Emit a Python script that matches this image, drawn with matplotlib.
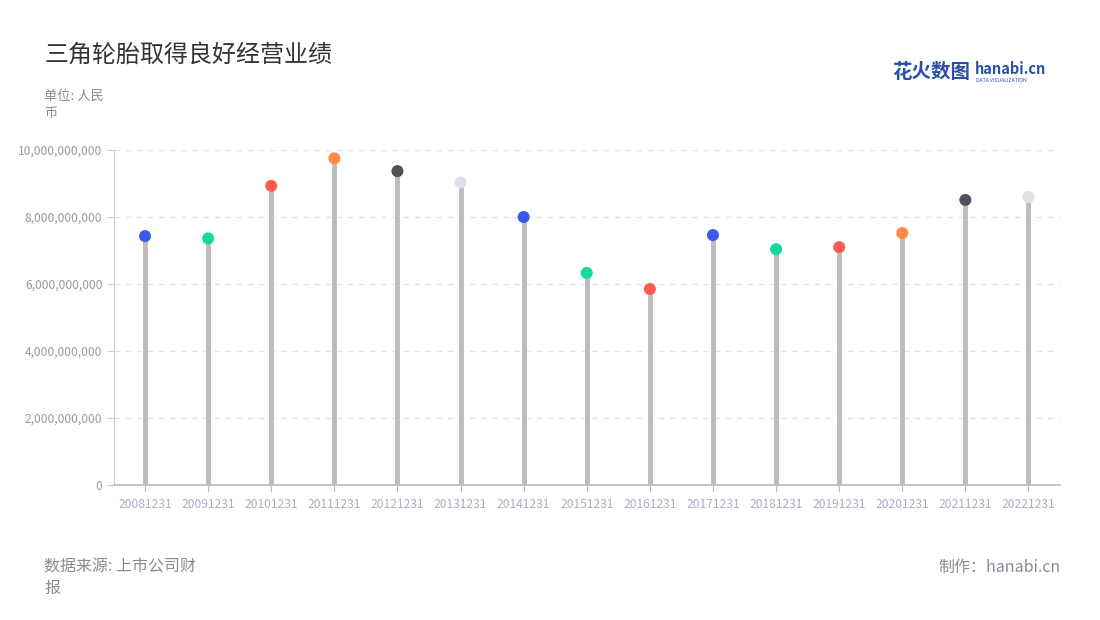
import matplotlib
matplotlib.use("Agg")
import matplotlib.pyplot as plt
from matplotlib.ticker import FuncFormatter, MultipleLocator

plt.rcParams['font.family'] = ['Noto Sans CJK SC', 'DejaVu Sans']

categories = ["20081231", "20091231", "20101231", "20111231", "20121231",
              "20131231", "20141231", "20151231", "20161231", "20171231",
              "20181231", "20191231", "20201231", "20211231", "20221231"]
revenue = [7.43e9, 7.36e9, 8.93e9, 9.75e9, 9.37e9,
           9.03e9, 8.00e9, 6.33e9, 5.85e9, 7.46e9,
           7.04e9, 7.10e9, 7.52e9, 8.51e9, 8.60e9]
dot_colors = ["#3a5be9", "#17d9a0", "#ff5a52", "#ff8b45", "#50505a",
              "#dde1ea", "#3a5be9", "#17d9a0", "#ff5a52", "#3a5be9",
              "#17d9a0", "#ff5a52", "#ff8b45", "#50505a", "#dde1ea"]

fig = plt.figure(figsize=(11, 6.2), dpi=100)
ax = fig.add_axes([113.5/1100, 135/620, (1060-113.5)/1100, 335/620])

x = list(range(len(categories)))
ax.vlines(x, 0, revenue, color="#bcbcbc", linewidth=3.5, zorder=2)
ax.scatter(x, revenue, s=75, c=dot_colors, zorder=3, linewidths=0)

ax.set_xlim(-0.5, len(categories) - 0.5)
ax.set_ylim(0, 1e10)
ax.yaxis.set_major_locator(MultipleLocator(2e9))
ax.yaxis.set_major_formatter(FuncFormatter(lambda v, p: f"{int(v):,}"))
ax.set_xticks(x)
ax.set_xticklabels(categories)

ax.grid(axis='y', color="#e3e3e3", linestyle=(0, (4, 4)), linewidth=1, zorder=0)
ax.set_axisbelow(True)
for s in ['top', 'right']:
    ax.spines[s].set_visible(False)
ax.spines['left'].set_color("#cccccc")
ax.spines['bottom'].set_color("#bbbbbb")
ax.spines['bottom'].set_linewidth(1.2)
ax.tick_params(axis='y', colors="#cccccc", labelcolor="#999999", labelsize=8.6, length=5, pad=3)
ax.tick_params(axis='x', colors="#bbbbbb", labelcolor="#a9aec0", labelsize=8.7, length=5, pad=4)

fig.text(44/1100, 1 - 55/620, "三角轮胎取得良好经营业绩", fontsize=17.3, color="#333333", va='center', ha='left')
fig.text(44/1100, 1 - 96/620, "单位: 人民", fontsize=9.5, color="#8a8a96", va='center', ha='left')
fig.text(44/1100, 1 - 113/620, "币", fontsize=9.5, color="#8a8a96", va='center', ha='left')

fig.text(44/1100, 1 - 567/620, "数据来源: 上市公司财", fontsize=11.5, color="#8a8a96", va='center', ha='left')
fig.text(44/1100, 1 - 588/620, "报", fontsize=11.5, color="#8a8a96", va='center', ha='left')
fig.text(1061/1100, 1 - 567/620, "制作：hanabi.cn", fontsize=11.5, color="#8a8a96", va='center', ha='right')

# logo
fig.text(892/1100, 1 - 72/620, "花火数图", fontsize=14, color="#2b4fa8", fontweight='bold', va='center', ha='left')
fig.text(975/1100, 1 - 69/620, "hanabi.cn", fontsize=10.5, color="#2b4fa8", fontweight='bold', va='center', ha='left')
fig.text(976/1100, 1 - 80/620, "DATA VISUALIZATION", fontsize=3.7, color="#2b4fa8", va='center', ha='left')

fig.savefig("out.png", dpi=100)
